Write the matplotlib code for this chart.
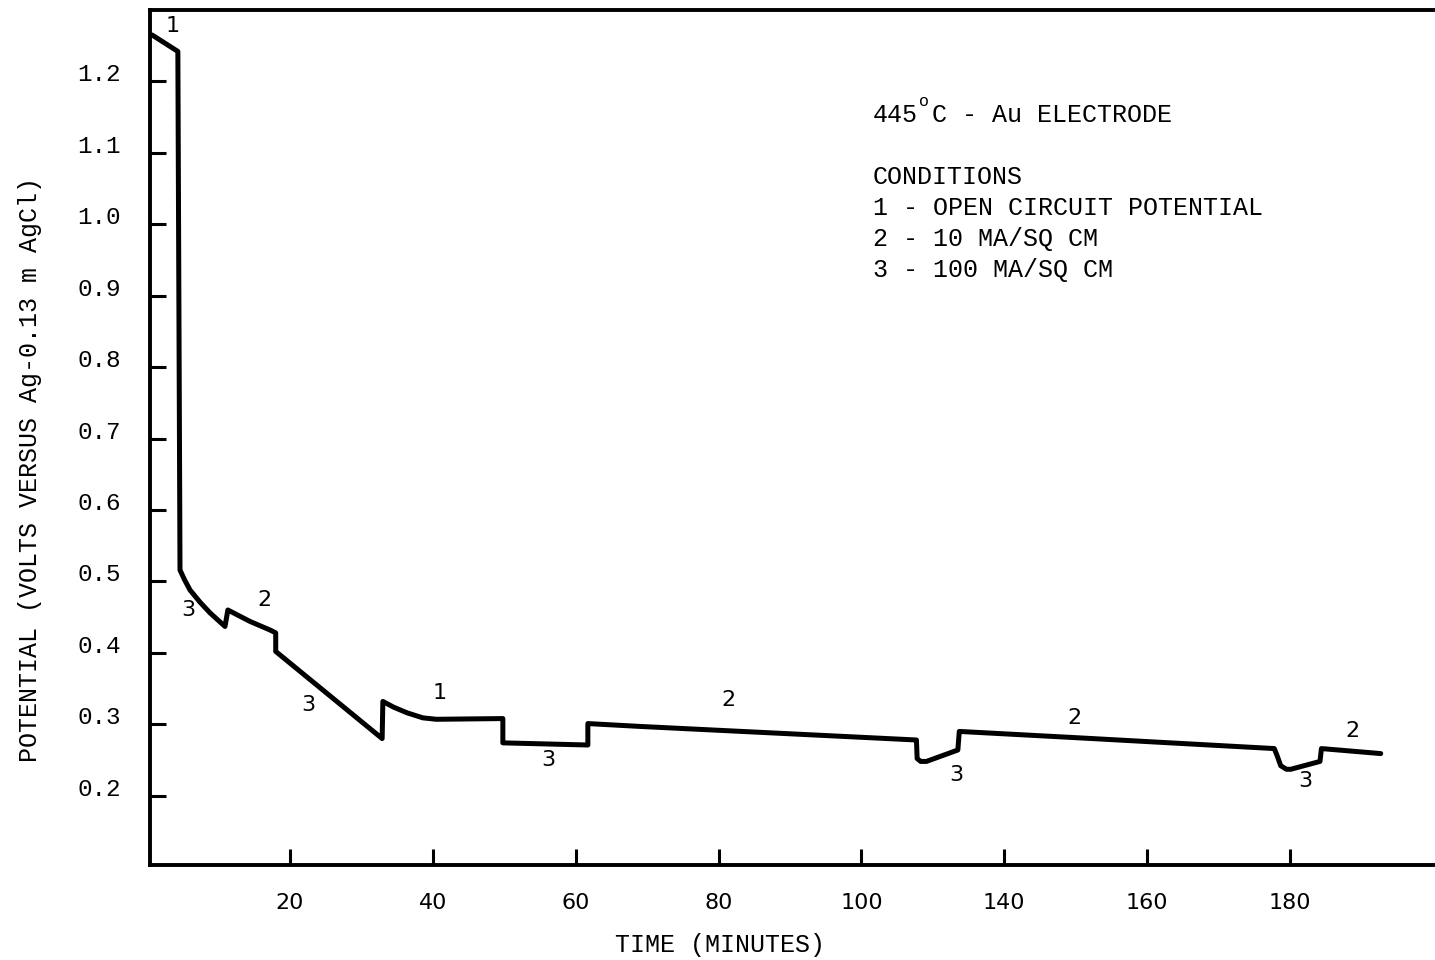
import matplotlib
matplotlib.use("Agg")
import matplotlib.pyplot as plt
from matplotlib.transforms import ScaledTranslation

# potential vs time
time_min = [0.7, 4.3, 4.6, 5.2, 6.0, 7.4, 8.8, 10.9, 11.3, 14.4, 17.2, 18.0, 18.0,
            32.9, 33.0, 34.5, 36.4, 38.6, 40.5, 49.8, 49.8, 61.7, 61.7, 69.0,
            107.7, 107.8, 108.3, 109.1, 113.5, 113.7, 130.5,
            157.8, 158.2, 158.7, 159.5, 160.1, 164.2, 164.4, 172.7]
potential_v = [1.265, 1.242, 0.516, 0.503, 0.488, 0.471, 0.456, 0.437, 0.460, 0.444, 0.432, 0.428, 0.402,
               0.280, 0.332, 0.324, 0.316, 0.309, 0.307, 0.308, 0.274, 0.271, 0.301, 0.297,
               0.278, 0.252, 0.248, 0.248, 0.264, 0.290, 0.281,
               0.266, 0.256, 0.242, 0.237, 0.237, 0.248, 0.266, 0.259]

# condition numbers written along the curve
cond_t = [3.6, 5.7, 16.4, 22.5, 41.0, 56.1, 81.4, 113.3, 129.8, 162.2, 168.7]
cond_v = [1.277, 0.460, 0.474, 0.327, 0.344, 0.250, 0.334, 0.229, 0.309, 0.220, 0.290]
cond_lbl = ["1", "3", "2", "3", "1", "3", "2", "3", "2", "3", "2"]

x_ticks = [20, 40, 60, 80, 100, 120, 140, 160]
x_tick_labels = ["20", "40", "60", "80", "100", "140", "160", "180"]
y_ticks = [0.2, 0.3, 0.4, 0.5, 0.6, 0.7, 0.8, 0.9, 1.0, 1.1, 1.2]

mono = "Liberation Mono"
sans = "DejaVu Sans"
W, H = 1435, 960

fig = plt.figure(figsize=(W / 100, H / 100), dpi=100)
ax = fig.add_axes([150 / W, (H - 865) / H, (W - 150) / W, (865 - 10) / H])

ax.plot(time_min, potential_v, color="black", lw=3.6,
        solid_joinstyle="round", solid_capstyle="round")

for t, v, s in zip(cond_t, cond_v, cond_lbl):
    ax.text(t, v, s, fontsize=16, family=sans, ha="center", va="center")

ax.set_xlim(0.4, 180.3)
ax.set_ylim(0.103, 1.300)

ax.spines["right"].set_visible(False)
for side in ["left", "bottom", "top"]:
    ax.spines[side].set_linewidth(2.8)

ax.set_xticks(x_ticks)
ax.set_xticklabels(x_tick_labels, fontsize=16, family=sans)
ax.set_yticks(y_ticks)
ax.set_yticklabels(["%.1f" % v for v in y_ticks], fontsize=17.5, family=mono)
ax.tick_params(direction="in", length=11.5, width=2.2, top=False, right=False)
ax.tick_params(axis="x", pad=20)
ax.tick_params(axis="y", pad=21)

# y labels sit a bit above their ticks in the original
for lab in ax.get_yticklabels():
    lab.set_transform(lab.get_transform() + ScaledTranslation(0, 0.09, fig.dpi_scale_trans))

fig.text(720 / W, 1 - 945 / H, "TIME (MINUTES)", fontsize=18, family=mono,
         ha="center", va="center")
fig.text(30 / W, 1 - 470 / H, "POTENTIAL (VOLTS VERSUS Ag-0.13 m AgCl)", fontsize=18,
         family=mono, rotation=90, ha="center", va="center")

# note block
fig.text(873 / W, 1 - 115 / H, "445", fontsize=18, family=mono, va="center")
fig.text(919 / W, 1 - 102 / H, "o", fontsize=12, family=mono, va="center")
fig.text(932 / W, 1 - 115 / H, "C - Au ELECTRODE", fontsize=18, family=mono, va="center")
note = ["CONDITIONS", "1 - OPEN CIRCUIT POTENTIAL", "2 - 10 MA/SQ CM", "3 - 100 MA/SQ CM"]
for i, line in enumerate(note):
    fig.text(873 / W, 1 - (177 + 31 * i) / H, line, fontsize=18, family=mono, va="center")

fig.savefig("out.png", dpi=100, facecolor="white")
